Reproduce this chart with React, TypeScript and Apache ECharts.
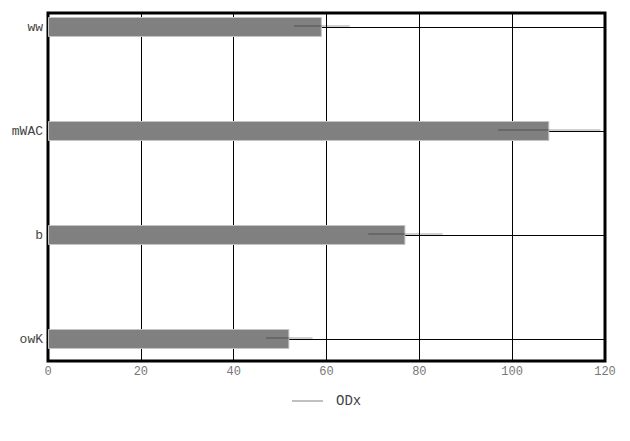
import React, { useEffect, useRef } from "react";
import * as echarts from "echarts";

const categories = ["owK", "b", "mWAC", "ww"];
const values = [52, 77, 108, 59];
const lows = [47, 69, 97, 53];
const highs = [57, 85, 119, 65];
const xTicks = { min: 0, max: 120, interval: 20 };
const seriesName = "ODx";

const FONT = "Liberation Mono";

export default function App() {
  const ref = useRef<HTMLDivElement>(null);
  useEffect(() => {
    if (!ref.current) return;
    const chart = echarts.init(ref.current, undefined, { renderer: "svg" });
    chart.setOption({
      animation: false,
      backgroundColor: "#fff",
      textStyle: { fontFamily: FONT },
      grid: [
        { left: 48, right: 25, top: 13, bottom: 80, show: true, borderColor: "#000", borderWidth: 3, backgroundColor: "transparent", z: 0 },
        { left: 48, right: 25, top: 27, bottom: 102 },
      ],
      legend: {
        data: [{ name: seriesName, icon: "rect", itemStyle: { color: "#c0c0c0" } }],
        top: 389,
        left: 287,
        itemWidth: 31,
        itemHeight: 2,
        textStyle: { fontFamily: FONT, fontSize: 14, color: "#444", padding: [0, 0, 0, 8] },
      },
      xAxis: [
        {
          type: "value",
          gridIndex: 0,
          min: xTicks.min,
          max: xTicks.max,
          interval: xTicks.interval,
          axisLine: { show: false },
          axisTick: { show: false },
          axisLabel: { color: "#777777", fontSize: 12, fontFamily: FONT, margin: 5 },
          splitLine: { show: true, lineStyle: { color: "#000", width: 1 } },
        },
        {
          type: "value",
          gridIndex: 1,
          min: xTicks.min,
          max: xTicks.max,
          interval: xTicks.interval,
          show: false,
          splitLine: { show: false },
        },
      ],
      yAxis: [
        { type: "value", gridIndex: 0, show: false, splitLine: { show: false } },
        {
          type: "category",
          gridIndex: 1,
          data: categories,
          boundaryGap: false,
          axisLine: { show: false },
          axisTick: { show: false },
          axisLabel: { color: "#444444", fontSize: 13, fontFamily: FONT, margin: 5 },
          splitLine: { show: true, lineStyle: { color: "#000", width: 1 } },
        },
      ],
      series: [
        {
          type: "bar",
          xAxisIndex: 1,
          yAxisIndex: 1,
          data: values,
          barWidth: 20,
          itemStyle: { color: "#808080", borderColor: "#c4c4c4", borderWidth: 1 },
          z: 2,
        },
        {
          type: "custom",
          name: seriesName,
          xAxisIndex: 1,
          yAxisIndex: 1,
          data: categories.map((_, i) => [i, lows[i], highs[i]]),
          encode: { x: [1, 2], y: 0 },
          itemStyle: { color: "#c0c0c0" },
          z: 3,
          renderItem: (params: any, api: any) => {
            const idx = api.value(0);
            const p1 = api.coord([api.value(1), idx]);
            const p2 = api.coord([api.value(2), idx]);
            return {
              type: "line",
              shape: { x1: p1[0], y1: p1[1] - 1, x2: p2[0], y2: p2[1] - 1 },
              style: { stroke: "rgba(0,0,0,0.25)", lineWidth: 1.5 },
            };
          },
        },
      ],
    });
    return () => chart.dispose();
  }, []);
  return <div ref={ref} style={{ width: 630, height: 441, margin: -8 }} />;
}
